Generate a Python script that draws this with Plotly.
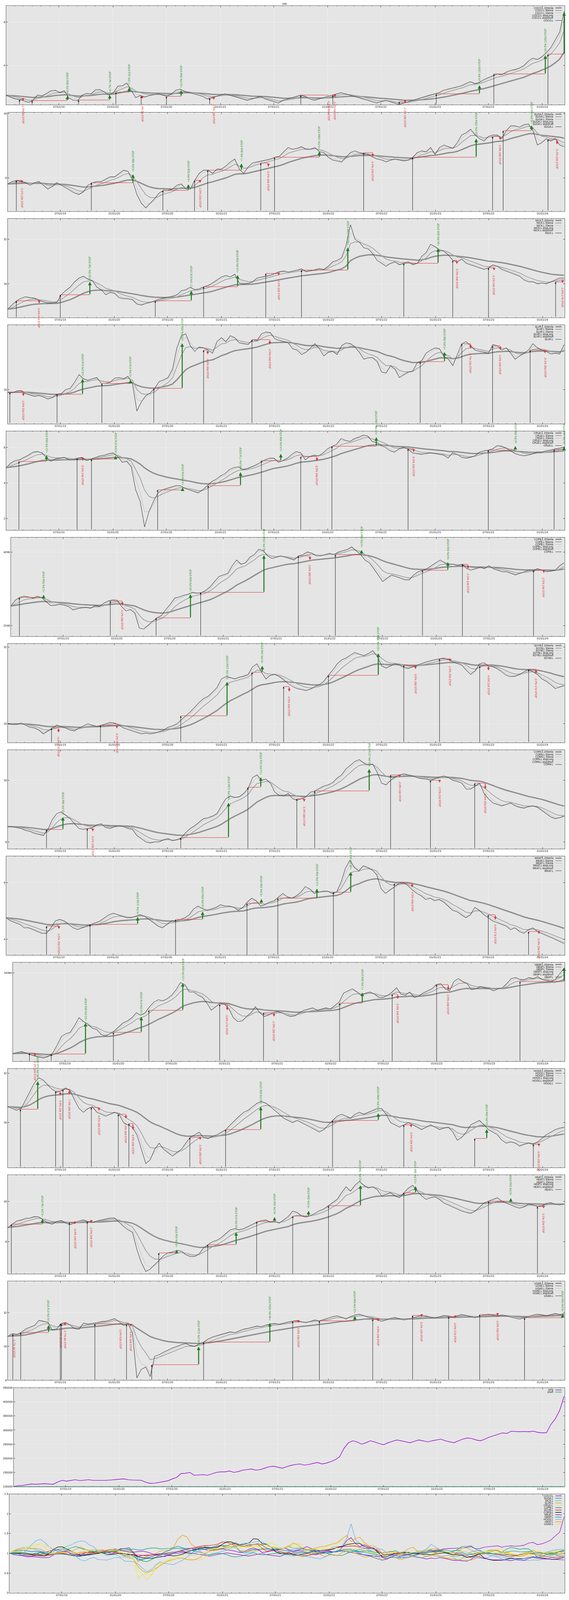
import numpy as np
import pandas as pd
import plotly.graph_objects as go

# ======================
# 1. Data
# ======================
tickers = ["COCO.L", "SUGA.L", "NICK.L", "SLVR.L", "CRUD.L", "COPB.L", "SOYB.L",
           "CORN.L", "WEAT.L", "GBSP.L", "HOGS.L", "HEAT.L", "UGAS.L"]

start_date = "2019-01-03"
end_date = "2024-03-15"

# about two closes per month
coco = [2.49, 2.42, 2.35, 2.33, 2.27, 2.22, 2.31, 2.5, 2.47, 2.56, 2.68, 2.7, 2.6, 2.68, 2.4, 2.3, 2.29, 2.5, 2.57, 2.55, 2.72, 2.73, 2.62, 2.5,
        2.6, 2.88, 2.9, 3.03, 2.7, 2.4, 2.48, 2.42, 2.48, 2.52, 2.55, 2.5, 2.45, 2.55, 2.7, 2.75, 2.65, 2.6, 2.55, 2.5, 2.45, 2.35, 2.4, 2.45,
        2.5, 2.55, 2.5, 2.45, 2.4, 2.35, 2.3, 2.35, 2.4, 2.45, 2.35, 2.3, 2.25, 2.2, 2.3, 2.35, 2.4, 2.45, 2.5, 2.45, 2.35, 2.3, 2.35, 2.4,
        2.45, 2.5, 2.55, 2.6, 2.55, 2.5, 2.45, 2.4, 2.35, 2.3, 2.25, 2.2, 2.25, 2.3, 2.25, 2.2, 2.15, 2.2, 2.25, 2.3, 2.35, 2.4, 2.45, 2.5,
        2.55, 2.6, 2.7, 2.75, 2.8, 2.85, 2.9, 3.0, 3.1, 3.0, 3.05, 3.2, 3.3, 3.4, 3.5, 3.45, 3.6, 3.7, 3.75, 3.85, 4.0, 4.3, 4.5, 4.4,
        4.6, 4.9, 5.3, 6.0, 6.8, 9.5]

suga = [7.5, 7.7, 7.8, 7.7, 7.6, 7.4, 7.6, 7.7, 7.4, 7.1, 7.3, 7.6, 7.4, 7.2, 7.0, 6.8, 6.7, 6.9, 7.4, 7.6, 7.7, 7.7, 7.9, 8.1,
        8.1, 8.4, 8.7, 8.6, 7.8, 6.7, 6.1, 5.8, 6.1, 6.4, 6.8, 7.0, 7.0, 7.1, 7.4, 7.5, 7.1, 7.1, 7.8, 8.4, 8.7, 8.7, 8.4, 8.8,
        8.8, 9.1, 9.5, 9.8, 8.8, 8.4, 9.0, 9.4, 9.5, 9.6, 9.7, 9.8, 10.0, 10.1, 10.6, 11.1, 10.9, 11.0, 11.2, 10.9, 10.9, 11.1, 10.6, 10.5,
        10.0, 9.7, 9.6, 9.5, 10.0, 10.5, 10.7, 10.5, 10.4, 10.3, 10.0, 9.8, 9.7, 9.5, 9.7, 9.8, 9.7, 9.6, 9.7, 10.0, 10.5, 10.7, 10.6, 11.1,
        10.3, 11.1, 11.4, 11.2, 11.0, 11.7, 12.7, 13.0, 13.5, 12.7, 12.2, 11.9, 12.5, 12.7, 12.7, 12.2, 13.3, 14.0, 14.0, 13.8, 14.2, 14.3, 13.3, 11.4,
        11.7, 12.2, 11.9, 12.2, 11.4, 11.2]

nick = [10.8, 11.6, 12.3, 12.8, 13.1, 12.9, 12.8, 12.4, 12.1, 11.9, 11.9, 12.0, 13.5, 14.4, 15.2, 16.5, 17.5, 18.0, 17.2, 16.8, 15.2, 14.6, 13.5, 14.0,
        13.8, 12.9, 12.7, 12.7, 12.5, 11.7, 11.5, 11.8, 12.0, 12.3, 12.6, 12.8, 13.0, 13.2, 13.5, 14.4, 14.6, 15.2, 14.6, 14.8, 15.3, 15.6, 16.2, 17.0,
        17.8, 18.2, 17.8, 18.6, 16.2, 16.0, 16.1, 16.5, 17.5, 17.8, 18.0, 18.3, 18.8, 19.3, 19.5, 19.2, 19.5, 19.8, 20.2, 19.3, 19.6, 19.9, 20.3, 20.0,
        21.0, 22.5, 23.0, 24.0, 29.0, 40.0, 32.0, 30.5, 28.0, 27.5, 25.5, 23.0, 22.0, 21.0, 22.0, 22.5, 21.5, 22.0, 22.5, 21.5, 22.0, 24.5, 26.0, 29.5,
        28.5, 27.0, 26.5, 25.0, 23.0, 22.5, 23.5, 22.0, 21.5, 21.0, 20.5, 20.0, 20.5, 21.5, 21.0, 20.0, 19.5, 19.0, 18.5, 18.0, 17.0, 16.5, 16.5, 16.0,
        16.2, 16.0, 16.5, 17.0, 17.5, 17.5]

slvr = [15.6, 15.5, 15.8, 15.9, 15.4, 15.2, 15.0, 15.1, 14.9, 14.6, 14.8, 15.3, 15.4, 16.0, 16.2, 17.2, 18.5, 17.8, 17.5, 17.8, 18.0, 17.0, 17.0, 17.2,
        17.9, 18.0, 17.8, 18.2, 17.0, 13.0, 14.2, 15.1, 15.5, 16.2, 17.3, 17.6, 18.0, 19.5, 24.0, 27.0, 27.5, 24.5, 23.2, 24.2, 24.0, 23.5, 22.8, 25.5,
        26.5, 25.5, 27.0, 26.5, 25.2, 25.0, 24.8, 26.0, 25.8, 27.5, 28.0, 27.8, 26.2, 25.8, 25.5, 25.2, 23.8, 23.5, 22.5, 23.0, 24.0, 25.0, 23.8, 22.2,
        23.0, 23.2, 22.5, 24.5, 25.2, 25.0, 24.2, 23.0, 21.5, 21.8, 21.8, 21.0, 19.0, 18.8, 20.2, 19.5, 18.0, 18.5, 19.0, 19.2, 20.8, 21.2, 22.8, 23.5,
        24.0, 23.8, 22.0, 21.5, 20.2, 22.5, 25.0, 25.5, 24.5, 23.5, 23.2, 23.0, 22.8, 24.8, 24.5, 23.5, 24.0, 22.8, 21.5, 22.2, 22.8, 23.5, 25.0, 24.0,
        23.5, 23.2, 22.6, 22.8, 22.6, 24.8]

crud = [5.4, 5.9, 6.2, 6.3, 6.6, 6.9, 7.3, 7.4, 7.2, 6.6, 6.1, 6.4, 6.5, 6.6, 6.3, 6.3, 6.5, 6.6, 6.2, 6.4, 6.6, 6.8, 6.9, 7.1,
        7.2, 6.7, 6.0, 6.1, 5.5, 3.5, 2.8, 1.7, 2.3, 2.8, 3.3, 3.5, 3.6, 3.7, 3.8, 3.8, 3.6, 3.5, 3.4, 3.3, 3.5, 3.8, 4.1, 4.3,
        4.6, 4.8, 5.2, 5.4, 5.5, 5.2, 5.3, 5.5, 5.7, 6.0, 6.3, 6.5, 6.5, 6.0, 6.2, 6.5, 7.0, 7.4, 7.2, 6.3, 6.7, 6.9, 6.8, 7.2,
        7.8, 8.2, 8.5, 9.5, 9.2, 9.0, 9.5, 9.8, 10.2, 10.0, 9.0, 8.8, 8.3, 8.0, 7.5, 7.3, 7.8, 8.0, 7.8, 7.2, 7.1, 7.0, 7.1, 7.2,
        7.1, 7.0, 6.9, 6.5, 7.2, 7.0, 6.6, 6.5, 6.6, 6.8, 7.3, 7.5, 7.6, 7.8, 8.3, 8.2, 7.9, 7.5, 7.1, 6.9, 6.8, 6.9, 7.1, 7.3,
        7.3, 7.5, 7.6, 7.8, 7.9, 8.1]

copb = [2460, 2600, 2670, 2700, 2680, 2650, 2700, 2660, 2560, 2470, 2480, 2500, 2480, 2450, 2370, 2400, 2420, 2430, 2410, 2470, 2450, 2530, 2580, 2610,
        2600, 2450, 2350, 2380, 2300, 2000, 1980, 2050, 2130, 2200, 2250, 2380, 2500, 2650, 2680, 2720, 2750, 2800, 2780, 2790, 2850, 2950, 3100, 3250,
        3300, 3350, 3600, 3800, 3650, 3700, 3900, 4000, 4200, 4150, 3950, 3850, 3900, 3950, 3900, 3850, 3800, 3950, 4000, 4100, 4050, 3950, 3950, 4000,
        4050, 4000, 4100, 4150, 4200, 4300, 4150, 4000, 3800, 3700, 3500, 3300, 3100, 3200, 3300, 3250, 3200, 3150, 3150, 3300, 3400, 3450, 3500, 3600,
        3700, 3800, 3700, 3650, 3650, 3600, 3650, 3500, 3450, 3500, 3550, 3500, 3600, 3500, 3450, 3400, 3400, 3350, 3300, 3350, 3400, 3450, 3450, 3500,
        3450, 3400, 3420, 3450, 3600, 3700]

soyb = [16.0, 15.9, 15.9, 16.1, 15.8, 15.5, 15.4, 15.1, 14.6, 15.0, 15.4, 15.8, 15.6, 15.4, 15.1, 15.0, 15.4, 15.7, 16.0, 15.8, 15.6, 15.8, 16.0, 16.2,
        16.1, 15.8, 15.4, 15.2, 15.0, 14.8, 14.6, 14.7, 14.6, 14.7, 14.9, 15.1, 15.5, 15.7, 16.0, 16.6, 17.2, 17.8, 18.6, 19.4, 20.1, 20.5, 21.3, 22.2,
        24.0, 24.5, 24.3, 24.0, 24.4, 24.6, 25.0, 26.8, 27.5, 25.5, 24.0, 24.8, 25.0, 24.5, 23.8, 23.0, 22.4, 22.0, 21.8, 21.6, 21.9, 22.4, 22.8, 23.5,
        24.8, 26.0, 27.5, 28.5, 29.0, 29.8, 30.5, 30.0, 29.6, 30.2, 31.0, 29.5, 27.0, 26.5, 27.0, 27.5, 27.2, 26.6, 26.4, 26.8, 27.2, 27.6, 28.0, 28.3,
        28.6, 28.8, 29.0, 28.6, 28.0, 27.6, 27.2, 26.0, 25.0, 25.8, 27.5, 27.8, 27.0, 26.8, 26.3, 25.6, 24.8, 24.5, 24.6, 25.0, 25.6, 26.2, 25.6, 25.0,
        24.0, 23.5, 22.8, 22.0, 22.3, 22.6]

corn = [9.5, 9.5, 9.4, 9.3, 9.1, 9.0, 8.8, 8.7, 8.6, 9.2, 10.3, 11.0, 11.2, 10.8, 10.4, 9.8, 9.3, 9.2, 9.3, 9.4, 9.7, 9.8, 9.4, 9.3,
        9.5, 9.6, 9.5, 9.3, 9.2, 8.6, 8.3, 8.0, 7.9, 8.0, 8.0, 8.2, 8.3, 8.1, 8.2, 8.4, 8.9, 9.3, 9.6, 10.0, 10.4, 10.5, 10.7, 11.0,
        12.0, 13.0, 13.4, 13.2, 13.3, 13.8, 14.6, 16.5, 17.0, 16.0, 16.2, 15.5, 14.0, 13.5, 13.4, 13.8, 13.0, 12.8, 13.0, 13.3, 14.0, 14.2, 14.6, 15.0,
        15.2, 15.6, 16.4, 17.0, 18.2, 19.0, 19.8, 20.2, 19.4, 19.0, 19.2, 17.5, 15.5, 15.2, 16.0, 16.6, 17.0, 17.2, 17.0, 16.8, 16.5, 16.3, 16.2, 16.0,
        16.3, 16.6, 16.8, 16.5, 16.0, 15.8, 15.5, 14.5, 14.5, 15.0, 15.5, 13.8, 13.0, 12.4, 12.2, 12.0, 12.2, 12.4, 12.0, 11.8, 11.7, 11.9, 12.0, 11.8,
        11.4, 11.0, 10.6, 10.4, 10.5, 10.7]

weat = [5.2, 5.0, 4.9, 4.8, 4.6, 4.6, 4.5, 4.4, 4.3, 4.3, 4.6, 5.0, 5.1, 5.0, 4.8, 4.6, 4.5, 4.6, 4.7, 4.8, 4.9, 5.0, 5.2, 5.4,
        5.5, 5.4, 5.3, 5.2, 5.2, 5.3, 5.4, 5.3, 5.1, 4.9, 4.7, 4.6, 4.8, 5.0, 5.0, 5.1, 5.2, 5.4, 5.8, 6.0, 5.8, 5.7, 5.8, 5.9,
        6.1, 6.0, 6.0, 5.9, 5.7, 5.9, 6.3, 6.6, 6.4, 6.0, 6.1, 6.3, 6.4, 6.7, 7.0, 6.7, 6.6, 6.8, 7.1, 7.6, 7.4, 7.0, 7.1, 7.2,
        7.2, 7.0, 7.1, 8.0, 9.5, 10.5, 9.6, 9.2, 9.8, 9.6, 9.3, 8.8, 7.4, 7.0, 7.3, 7.6, 7.9, 8.0, 7.7, 7.3, 7.0, 6.8, 6.5, 6.6,
        6.4, 6.5, 6.3, 6.0, 5.7, 5.6, 5.4, 5.2, 5.4, 5.9, 5.7, 5.4, 5.2, 5.0, 4.9, 4.8, 4.7, 4.5, 4.6, 4.4, 4.3, 4.5, 4.6, 4.4,
        4.3, 4.2, 4.1, 4.0, 3.9, 3.8]

gbsp = [9780, 9850, 9900, 9800, 9720, 9620, 9560, 9500, 9600, 9800, 10300, 10900, 11100, 11200, 11700, 12300, 12000, 11800, 11500, 11400, 11050, 10950, 11100, 11300,
        11600, 11900, 12050, 12300, 12700, 12500, 12700, 13200, 13600, 13800, 13700, 13900, 14200, 14700, 15400, 15200, 14500, 14500, 14200, 14000, 13500, 12900, 13200, 13500,
        13400, 13000, 12300, 12000, 12050, 12400, 12700, 13200, 12700, 12400, 12500, 12700, 12800, 12700, 12500, 12400, 12450, 12700, 12900, 13000, 13100, 12900, 13000, 13100,
        13000, 13300, 13600, 14400, 14600, 14800, 14500, 14200, 14400, 14500, 14300, 14000, 14000, 14200, 14500, 14900, 14300, 14200, 14500, 14000, 14100, 14400, 14600, 14800,
        15200, 15300, 14800, 14600, 15500, 15800, 15500, 15300, 14700, 14800, 15000, 14900, 14800, 14600, 14800, 14900, 15300, 15800, 15900, 15700, 15700, 15900, 15800, 16000,
        15700, 15600, 15500, 15700, 16300, 16900]

hogs = [20.0, 19.5, 19.0, 19.5, 22.0, 25.0, 28.0, 30.0, 29.0, 27.0, 25.5, 24.5, 25.0, 26.0, 25.0, 22.0, 19.5, 18.5, 19.5, 20.0, 18.5, 18.0, 17.5, 18.0,
        18.5, 18.0, 16.0, 15.5, 15.0, 13.5, 11.0, 9.0, 9.5, 11.0, 12.0, 11.0, 10.5, 10.0, 10.5, 11.0, 12.0, 13.0, 13.5, 14.0, 13.0, 12.8, 13.2, 13.5,
        14.0, 14.5, 15.5, 16.5, 17.5, 18.5, 19.0, 20.0, 21.0, 21.5, 21.0, 20.0, 19.0, 18.0, 17.0, 16.5, 16.0, 16.5, 16.0, 15.5, 15.0, 14.5, 14.0, 14.5,
        15.5, 16.5, 17.5, 18.0, 17.5, 17.0, 18.0, 18.5, 18.0, 18.5, 19.0, 19.5, 19.5, 18.0, 16.0, 15.5, 15.0, 15.5, 16.0, 15.5, 15.0, 14.5, 15.0, 15.5,
        15.0, 14.5, 14.8, 15.0, 14.0, 12.5, 13.0, 14.0, 15.5, 16.0, 16.5, 15.5, 14.5, 14.0, 13.5, 12.5, 12.0, 12.2, 12.0, 11.5, 11.8, 12.0, 11.8, 12.2,
        12.8, 13.5, 14.0, 14.5, 14.8, 15.0]

heat = [10.2, 10.8, 11.4, 11.6, 11.9, 12.0, 12.3, 12.2, 11.6, 11.0, 10.8, 11.3, 11.5, 11.0, 10.7, 11.0, 11.4, 11.6, 11.3, 11.1, 11.4, 11.6, 11.8, 12.0,
        12.0, 11.2, 10.4, 9.8, 9.4, 7.0, 5.6, 4.8, 5.0, 5.4, 5.8, 6.3, 6.6, 6.7, 6.9, 6.8, 6.4, 6.2, 6.2, 6.5, 7.2, 7.6, 8.0, 8.2,
        8.6, 9.2, 9.8, 10.0, 9.8, 10.0, 10.4, 10.8, 11.2, 11.5, 11.6, 11.2, 11.3, 11.0, 11.6, 12.3, 13.5, 13.2, 12.4, 12.2, 12.5, 13.0, 13.6, 14.0,
        14.8, 15.6, 16.5, 18.5, 20.5, 19.0, 21.0, 22.5, 21.0, 20.0, 20.5, 19.5, 17.5, 18.0, 18.5, 17.5, 17.0, 18.5, 20.0, 21.0, 19.0, 17.5, 16.5, 17.0,
        17.2, 16.5, 15.5, 15.0, 14.5, 14.0, 13.5, 13.2, 13.0, 13.5, 14.5, 15.5, 16.0, 16.5, 17.0, 16.0, 15.5, 15.0, 14.5, 14.2, 14.5, 15.2, 15.0, 14.6,
        14.8, 15.4, 15.6, 15.2, 15.0, 15.3]

ugas = [19.7, 20.8, 20.5, 21.3, 22.8, 23.8, 24.6, 27.3, 26.8, 26.2, 22.3, 22.9, 25.6, 26.2, 24.8, 23.0, 22.8, 25.8, 25.3, 25.6, 26.0, 26.6, 26.8, 27.5,
        28.3, 26.5, 24.6, 25.6, 21.0, 8.4, 10.0, 10.5, 8.6, 13.1, 13.5, 14.2, 14.8, 15.5, 16.0, 16.6, 17.0, 16.3, 16.0, 16.8, 17.5, 18.6, 19.4, 20.0,
        20.5, 21.0, 21.6, 21.2, 22.0, 22.8, 23.2, 23.8, 24.3, 24.0, 24.8, 25.3, 25.6, 25.2, 25.8, 26.4, 26.8, 27.2, 26.5, 26.0, 26.8, 27.5, 27.0, 27.8,
        28.5, 29.5, 30.0, 29.0, 28.0, 29.5, 30.5, 31.0, 30.0, 29.0, 28.5, 27.5, 26.8, 27.5, 28.5, 29.0, 28.2, 27.5, 28.0, 28.8, 29.5, 30.2, 29.8, 29.0,
        28.6, 29.4, 30.2, 29.8, 29.2, 30.0, 30.8, 30.2, 29.5, 28.8, 29.6, 30.5, 31.0, 30.4, 29.8, 30.5, 30.0, 29.2, 28.6, 28.0, 28.8, 29.6, 30.4, 31.0,
        30.6, 30.0, 30.8, 31.5, 30.8, 31.2]

prices = [coco, suga, nick, slvr, crud, copb, soyb, corn, weat, gbsp, hogs, heat, ugas]

# trades: (entry date, entry price, exit date, result %, days held; None = still open)
coco_trades = [("2019-02-17", 2.33, "2019-03-01", -2.3, 8), ("2019-04-01", 2.29, "2019-07-30", 8.0, 85),
               ("2019-09-06", 2.31, "2019-12-21", 8.7, 74), ("2020-01-11", 2.62, "2020-02-25", 7.5, 31),
               ("2020-04-06", 2.46, "2020-04-10", -4.3, 3), ("2020-07-01", 2.45, "2020-08-20", 10.2, 36),
               ("2020-11-25", 2.38, "2020-12-09", -2.5, 10), ("2021-10-01", 2.5, "2022-01-04", -1.9, 66),
               ("2022-01-18", 2.5, "2022-01-25", -3.4, 5), ("2022-09-01", 2.25, "2022-09-21", -2.2, 14),
               ("2023-01-05", 2.55, "2023-06-01", 14.8, 102), ("2023-07-20", 3.5, "2024-01-11", 34.5, 125),
               ("2024-01-20", 4.8, "2024-03-15", 95.0, None)]
suga_trades = [("2019-02-01", 7.8, "2019-02-20", -3.1, 13), ("2019-10-15", 7.6, "2020-03-05", 9.6, 98),
               ("2020-06-15", 7.0, "2020-09-10", 6.8, 62), ("2020-10-01", 7.8, "2020-10-20", -2.8, 13),
               ("2020-11-15", 8.7, "2021-03-10", 7.4, 80), ("2021-05-15", 9.4, "2021-06-10", -3.9, 18),
               ("2021-07-01", 10.0, "2021-12-01", 6.5, 108), ("2022-05-01", 10.5, "2022-06-01", -4.4, 22),
               ("2022-10-15", 10.0, "2023-05-20", 22.0, 150), ("2023-07-15", 12.5, "2023-08-10", -3.8, 18),
               ("2023-08-20", 13.3, "2023-11-25", 5.8, 68), ("2024-01-20", 12.1, "2024-02-20", -5.2, 22)]
nick_trades = [("2019-02-01", 12.3, "2019-04-20", -4.0, 54), ("2019-07-01", 13.5, "2019-10-10", 22.5, 72),
               ("2020-05-20", 12.3, "2020-09-20", 17.0, 87), ("2020-11-01", 15.3, "2021-02-25", 19.8, 83),
               ("2021-06-01", 18.8, "2021-07-15", -3.1, 32), ("2021-10-01", 19.8, "2022-03-08", 42.0, 108),
               ("2022-09-15", 22.0, "2023-01-10", 26.0, 82), ("2023-03-01", 23.0, "2023-03-15", -5.5, 10),
               ("2023-07-01", 20.5, "2023-07-20", -4.1, 14), ("2024-02-15", 16.5, "2024-03-10", -2.0, 17)]
slvr_trades = [("2019-01-10", 15.6, "2019-02-25", -3.6, 32), ("2019-06-20", 15.3, "2019-09-15", 16.2, 61),
               ("2019-11-20", 17.0, "2020-02-25", 3.5, 67), ("2020-05-15", 16.2, "2020-08-20", 55.0, 69),
               ("2020-11-01", 23.5, "2020-11-15", -4.0, 10), ("2021-04-15", 26.0, "2021-06-15", -4.5, 43),
               ("2022-11-10", 21.0, "2023-02-01", 9.8, 58), ("2023-04-01", 25.0, "2023-05-01", -4.7, 21),
               ("2023-07-15", 24.5, "2023-08-10", -4.0, 19), ("2023-11-20", 23.5, "2024-01-10", -3.1, 35)]
crud_trades = [("2019-02-15", 6.1, "2019-05-20", 12.5, 66), ("2019-09-01", 6.5, "2019-09-20", -5.0, 14),
               ("2019-10-20", 6.4, "2020-01-10", 6.5, 57), ("2020-06-01", 3.5, "2020-08-25", 4.8, 61),
               ("2020-11-20", 3.8, "2021-03-10", 30.0, 77), ("2021-05-20", 6.2, "2021-07-25", 14.0, 46),
               ("2021-10-01", 6.7, "2021-11-25", -8.5, 40), ("2022-01-15", 8.2, "2022-06-15", 19.5, 108),
               ("2022-10-01", 7.8, "2022-10-20", -6.0, 14), ("2023-07-01", 7.6, "2023-10-01", 8.5, 65),
               ("2024-02-10", 7.7, "2024-03-15", 5.5, 24)]
copb_trades = [("2019-02-01", 2670, "2019-04-25", 2.5, 59), ("2019-12-10", 2580, "2020-01-20", -4.1, 28),
               ("2020-05-15", 2200, "2020-09-10", 25.0, 83), ("2020-10-15", 2800, "2021-05-20", 42.0, 152),
               ("2021-09-15", 3950, "2021-10-25", -3.8, 28), ("2022-01-20", 4000, "2022-04-20", 4.5, 63),
               ("2022-11-15", 3450, "2023-02-10", 8.0, 62), ("2023-04-01", 3650, "2023-04-20", -4.2, 14),
               ("2023-12-01", 3450, "2024-01-05", -2.5, 24)]
soyb_trades = [("2019-06-01", 15.4, "2019-06-25", -4.0, 17), ("2019-11-15", 15.8, "2020-01-10", -3.0, 39),
               ("2020-08-15", 17.2, "2021-01-20", 36.0, 110), ("2021-04-15", 25.5, "2021-05-20", 6.0, 24),
               ("2021-08-01", 22.4, "2021-08-20", -4.5, 14), ("2022-01-01", 24.8, "2022-06-20", 22.0, 118),
               ("2022-09-15", 27.2, "2022-10-25", -3.6, 28), ("2023-01-15", 28.8, "2023-02-20", -2.5, 25),
               ("2023-06-01", 27.0, "2023-07-01", -4.0, 21), ("2023-11-15", 26.2, "2023-12-10", -3.9, 17)]
corn_trades = [("2019-05-15", 9.2, "2019-07-10", 15.0, 38), ("2019-10-01", 9.3, "2019-10-20", -3.2, 14),
               ("2020-08-15", 8.4, "2021-01-25", 48.0, 110), ("2021-04-01", 14.8, "2021-05-15", 12.0, 31),
               ("2021-09-15", 13.0, "2021-10-10", -3.3, 18), ("2021-11-15", 14.2, "2022-05-20", 28.0, 127),
               ("2022-08-01", 17.0, "2022-09-01", -2.8, 22), ("2022-12-15", 16.0, "2023-01-15", -2.5, 21),
               ("2023-05-15", 15.5, "2023-06-20", -6.5, 25)]
weat_trades = [("2019-05-20", 4.7, "2019-07-01", -3.5, 29), ("2019-10-15", 4.8, "2020-03-25", 9.5, 113),
               ("2020-08-01", 5.1, "2020-11-01", 10.0, 65), ("2021-04-01", 6.2, "2021-05-20", 5.5, 34),
               ("2021-07-15", 6.6, "2021-11-25", 12.5, 93), ("2022-01-20", 7.1, "2022-03-20", 28.0, 42),
               ("2022-08-15", 7.9, "2022-10-15", -4.5, 43), ("2023-07-01", 5.4, "2023-07-25", -6.0, 17),
               ("2023-11-15", 4.4, "2023-12-20", -3.0, 25)]
gbsp_trades = [("2019-03-01", 9800, "2019-03-20", -2.1, 14), ("2019-05-15", 9750, "2019-09-10", 22.0, 82),
               ("2019-12-15", 11200, "2020-03-20", 10.5, 67), ("2020-04-15", 12900, "2020-08-10", 19.0, 82),
               ("2020-12-15", 13400, "2021-01-10", -3.8, 17), ("2021-05-15", 12700, "2021-06-20", -2.5, 25),
               ("2022-02-01", 13500, "2022-04-20", 7.0, 56), ("2022-08-01", 14300, "2022-08-20", -3.0, 14),
               ("2023-01-01", 15200, "2023-02-10", -3.5, 28), ("2023-10-15", 15500, "2024-03-15", 9.5, None)]
hogs_trades = [("2019-02-15", 19.3, "2019-04-15", 48.0, 41), ("2019-06-15", 24.8, "2019-07-01", -5.8, 11),
               ("2019-07-10", 25.5, "2019-08-01", -7.0, 16), ("2019-10-15", 19.8, "2019-11-10", -4.5, 18),
               ("2020-01-15", 18.0, "2020-02-10", -6.0, 18), ("2020-02-20", 15.8, "2020-03-05", -8.5, 10),
               ("2020-09-15", 13.0, "2020-10-20", -3.5, 25), ("2021-01-15", 14.5, "2021-05-15", 38.0, 85),
               ("2022-01-15", 16.5, "2022-06-20", 10.5, 108), ("2022-09-15", 15.5, "2022-10-10", -3.5, 18),
               ("2023-05-15", 12.8, "2023-06-25", 14.0, 29), ("2023-12-01", 11.8, "2023-12-20", -3.0, 13)]
heat_trades = [("2019-01-15", 10.8, "2019-05-01", 9.2, 74), ("2019-08-01", 11.1, "2019-08-20", -3.0, 14),
               ("2019-10-01", 11.3, "2019-10-15", -2.5, 10), ("2020-06-01", 6.6, "2020-08-01", 5.5, 43),
               ("2020-11-15", 7.6, "2021-02-20", 24.0, 67), ("2021-05-01", 11.3, "2021-07-01", 8.0, 43),
               ("2021-09-01", 12.4, "2021-10-25", 9.5, 39), ("2022-01-01", 14.8, "2022-04-20", 42.0, 78),
               ("2022-09-15", 18.5, "2022-10-25", 12.0, 28), ("2023-07-01", 16.0, "2023-09-15", 5.5, 54),
               ("2023-12-15", 14.6, "2024-01-05", -3.2, 15)]
ugas_trades = [("2019-01-20", 20.6, "2019-01-25", -1.7, 4), ("2019-02-16", 21.3, "2019-05-22", 16.2, 67),
               ("2019-07-01", 25.6, "2019-07-02", -2.4, 1), ("2019-07-05", 25.4, "2019-07-17", -3.7, 8),
               ("2019-10-27", 25.4, "2020-01-22", -1.0, 62), ("2020-02-12", 25.2, "2020-02-26", -4.8, 10),
               ("2020-05-08", 11.0, "2020-10-15", 45.0, 112), ("2020-11-01", 17.5, "2021-06-15", 48.0, 155),
               ("2021-09-01", 26.8, "2021-09-20", -3.5, 13), ("2021-12-01", 27.0, "2022-04-01", 10.5, 84),
               ("2022-06-01", 28.0, "2022-06-20", -4.5, 13), ("2022-10-15", 30.2, "2022-11-15", -3.2, 22),
               ("2023-02-15", 29.4, "2023-03-10", -3.0, 17), ("2023-06-01", 30.8, "2023-08-01", -3.0, 43),
               ("2023-11-01", 28.8, "2024-03-10", 8.0, 90)]
trades = [coco_trades, suga_trades, nick_trades, slvr_trades, crud_trades, copb_trades, soyb_trades,
          corn_trades, weat_trades, gbsp_trades, hogs_trades, heat_trades, ugas_trades]

# portfolio value, thousands
long_k = [100.5, 103, 104, 106, 109, 108, 109, 110, 109, 108, 116, 122, 119, 122, 124, 121, 123, 124, 122, 122, 121, 122, 123, 125,
          126, 127, 124, 123, 123, 122, 115, 111, 112, 115, 117, 120, 127, 132, 146, 147, 150, 140, 141, 142, 140, 145, 150, 152,
          152, 155, 150, 153, 158, 160, 162, 158, 160, 165, 170, 172, 168, 165, 170, 175, 178, 180, 176, 178, 182, 185, 180, 183,
          188, 195, 205, 235, 255, 262, 258, 250, 255, 262, 258, 252, 248, 255, 260, 265, 262, 258, 255, 260, 265, 262, 258, 262,
          265, 268, 262, 258, 255, 262, 268, 272, 270, 265, 262, 268, 275, 280, 285, 290, 288, 296, 295, 294, 295, 294, 296, 292,
          290, 291, 320, 340, 370, 420]
short_vals = [100000, 100000]

# ======================
# 2. Layout constants (pixels)
# ======================
W, H = 1456, 4266
TOP, STEP, PANEL_H, RIGHT = 12, 284, 264, 1445
lefts = [16, 20, 20, 20, 16, 28, 20, 20, 16, 33, 20, 20, 20, 35, 24]
y_ranges = [(2.14, 10.3), (5.6, 16.2), (9.5, 44), (11.5, 30), (1.6, 11), (1850, 4700), (13.5, 33),
            (7.4, 22.5), (3.3, 11), (9300, 17500), (8.5, 34), (4.6, 25), (8, 60.6)]
palette = ["#9400d3", "#009e73", "#56b4e9", "#e69f00", "#f0e442", "#0072b2", "#e51e10",
           "#000000", "#9400d3", "#009e73", "#56b4e9", "#e69f00", "#f0e442"]
A20, A50, A200 = 0.646, 0.34, 0.099  # daily ema spans rescaled to the sampling
GREEN_TXT, GREEN_ARR, RED = "#2b8f2b", "#1d7f1d", "#e2323a"
FONT = "Liberation Sans, Arial, sans-serif"
X0, X1 = "2019-01-03", "2024-03-17"

annotations, shapes = [], []


def px_x(px):
    return px / W


def px_y(px):
    return 1 - px / H


def add_key(k, entries, row_h=6.7, first=5):
    top = TOP + STEP * k
    for r, (label, color, width) in enumerate(entries):
        yy = px_y(top + first + row_h * r)
        annotations.append(dict(x=px_x(1418), y=yy, xref="paper", yref="paper", text=label, showarrow=False,
                                xanchor="right", yanchor="middle", font=dict(size=6.5, color="#111", family=FONT)))
        shapes.append(dict(type="line", xref="paper", yref="paper", x0=px_x(1421), x1=px_x(1437), y0=yy, y1=yy,
                           line=dict(color=color, width=width)))


def axis_pair(fig, k, ylayout):
    sfx = "" if k == 0 else str(k + 1)
    top = TOP + STEP * k
    xa = dict(domain=[px_x(lefts[k]), px_x(RIGHT)], anchor="y" + sfx, type="date", range=[X0, X1],
              tick0="2019-07-01", dtick="M6", tickformat="%m/%d/%y", ticks="inside", ticklen=4,
              tickcolor="#444", mirror="ticks", showline=True, linecolor="#555", linewidth=1,
              showgrid=True, gridcolor="#efefef", zeroline=False, ticklabelstandoff=-2,
              tickfont=dict(size=7.5, color="#222", family=FONT),
              minor=dict(dtick="M1", ticks="inside", ticklen=2, tickcolor="#777", showgrid=False))
    ya = dict(domain=[px_y(top + PANEL_H), px_y(top)], anchor="x" + sfx, ticks="inside", ticklen=4,
              tickcolor="#444", mirror="ticks", showline=True, linecolor="#555", linewidth=1,
              showgrid=True, gridcolor="#efefef", zeroline=False,
              tickfont=dict(size=7.5, color="#222", family=FONT))
    ya.update(ylayout)
    fig.update_layout({"xaxis" + sfx: xa, "yaxis" + sfx: ya})
    return "x" + sfx, "y" + sfx


def price_panel(fig, k):
    name, p = tickers[k], prices[k]
    lo, hi = y_ranges[k]
    xr, yr = axis_pair(fig, k, dict(type="log", range=[np.log10(lo), np.log10(hi)],
                                    tickvals=[2 ** i for i in range(0, 15)],
                                    ticktext=[str(2 ** i) for i in range(0, 15)]))
    dates = pd.date_range(start_date, end_date, periods=len(p))
    s = pd.Series(p, index=dates)
    lines = [(s.ewm(alpha=A200, adjust=False).mean(), "#8c8c8c", 3.2),
             (s.ewm(alpha=A50, adjust=False).mean(), "#9e9e9e", 1.8),
             (s.ewm(alpha=A20, adjust=False).mean(), "#b9b9b9", 1.0),
             (s, "#3c3c3c", 1.1)]
    for series, color, width in lines:
        fig.add_trace(go.Scatter(x=dates, y=series.values, mode="lines", line=dict(color=color, width=width),
                                 xaxis=xr, yaxis=yr, hoverinfo="skip", showlegend=False))

    # trade marks
    sx, sy = [], []
    for d0, p0, d1, pct, days in trades[k]:
        p1 = p0 * (1 + pct / 100)
        sx += [d0, d1, None]
        sy += [p0, p0, None]
        annotations.append(dict(x=d0, y=np.log10(p0), xref=xr, yref=yr, ax=d0, ay=np.log10(lo),
                                axref=xr, ayref=yr, showarrow=True, arrowhead=2, arrowsize=0.9,
                                arrowwidth=1, arrowcolor="#1a1a1a", standoff=0, text=""))
        win = pct >= 0
        annotations.append(dict(x=d1, y=np.log10(min(p1, hi)), xref=xr, yref=yr, ax=d1, ay=np.log10(p0),
                                axref=xr, ayref=yr, showarrow=True, arrowhead=2, arrowsize=0.7,
                                arrowwidth=2.6 if win else 2.0, arrowcolor=GREEN_ARR if win else RED,
                                standoff=0, text=""))
        if days is None:
            continue
        label = f"{pct:+.1f}% {days}d STOP"
        if win:
            annotations.append(dict(x=d1, y=np.log10(p1), xref=xr, yref=yr, text=label, showarrow=False,
                                    textangle=-90, xanchor="center", yanchor="bottom", yshift=4,
                                    font=dict(size=7, color=GREEN_TXT, family=FONT)))
        else:
            annotations.append(dict(x=d1, y=np.log10(p1), xref=xr, yref=yr, text=label, showarrow=False,
                                    textangle=90, xanchor="center", yanchor="top", yshift=-8,
                                    font=dict(size=7, color=RED, family=FONT)))
    fig.add_trace(go.Scatter(x=sx, y=sy, mode="lines", line=dict(color=RED, width=1), xaxis=xr, yaxis=yr,
                             hoverinfo="skip", showlegend=False, connectgaps=False))

    add_key(k, [(f"{name} 200ema", "#8c8c8c", 3), (f"{name} 50ema", "#9e9e9e", 2),
                (f"{name} 20ema", "#b9b9b9", 1), (f"{name} stopLong", "#d2d2d2", 1),
                (f"{name} stopShort", "#dadada", 1), (name, "#3c3c3c", 1)])


# ======================
# 3. Build figure
# ======================
fig = go.Figure()

for k in range(len(tickers)):
    price_panel(fig, k)

# portfolio panel
xr, yr = axis_pair(fig, 13, dict(type="linear", range=[100000, 450000], dtick=50000, tickformat="d"))
pdates = pd.date_range(start_date, end_date, periods=len(long_k))
fig.add_trace(go.Scatter(x=pdates, y=[v * 1000 for v in long_k], mode="lines",
                         line=dict(color="#9400d3", width=1.4), xaxis=xr, yaxis=yr, hoverinfo="skip", showlegend=False))
fig.add_trace(go.Scatter(x=[start_date, end_date], y=short_vals, mode="lines",
                         line=dict(color="#009e73", width=1.6), xaxis=xr, yaxis=yr, hoverinfo="skip", showlegend=False))
add_key(13, [("long", "#9400d3", 1.4), ("short", "#009e73", 1.4)], row_h=5.5, first=6)

# each ticker relative to its 200ema
xr, yr = axis_pair(fig, 14, dict(type="linear", range=[0, 2.5], dtick=0.5))
for k, name in enumerate(tickers):
    p = prices[k]
    dates = pd.date_range(start_date, end_date, periods=len(p))
    s = pd.Series(p, index=dates)
    rel = s / s.ewm(alpha=A200, adjust=False).mean()
    fig.add_trace(go.Scatter(x=dates, y=rel.values, mode="lines", line=dict(color=palette[k], width=1.2),
                             xaxis=xr, yaxis=yr, hoverinfo="skip", showlegend=False))
add_key(14, [(name, palette[k], 1.4) for k, name in enumerate(tickers)], row_h=6.3, first=5)

# title
annotations.append(dict(x=0.5, y=px_y(6), xref="paper", yref="paper", text="ndx", showarrow=False,
                        xanchor="center", yanchor="middle", font=dict(size=7.5, color="#111", family=FONT)))

fig.update_layout(width=W, height=H, margin=dict(l=0, r=0, t=0, b=0), paper_bgcolor="white",
                  plot_bgcolor="#e5e5e5", showlegend=False, hovermode=False,
                  font=dict(family=FONT, size=7.5, color="#222"),
                  annotations=annotations, shapes=shapes)

# drop the page margin and fit the figure to the visible window so the bottom panel is not cut
fit_js = """
document.body.style.margin = '0';
document.body.style.overflow = 'hidden';
var gd = document.getElementById('{plot_id}');
var vh = window.innerHeight || document.documentElement.clientHeight;
if (vh > 3000 && vh < 4266) { Plotly.relayout(gd, {height: vh}); }
"""
fig.write_html("out.html", config={"displayModeBar": False}, post_script=fit_js)
